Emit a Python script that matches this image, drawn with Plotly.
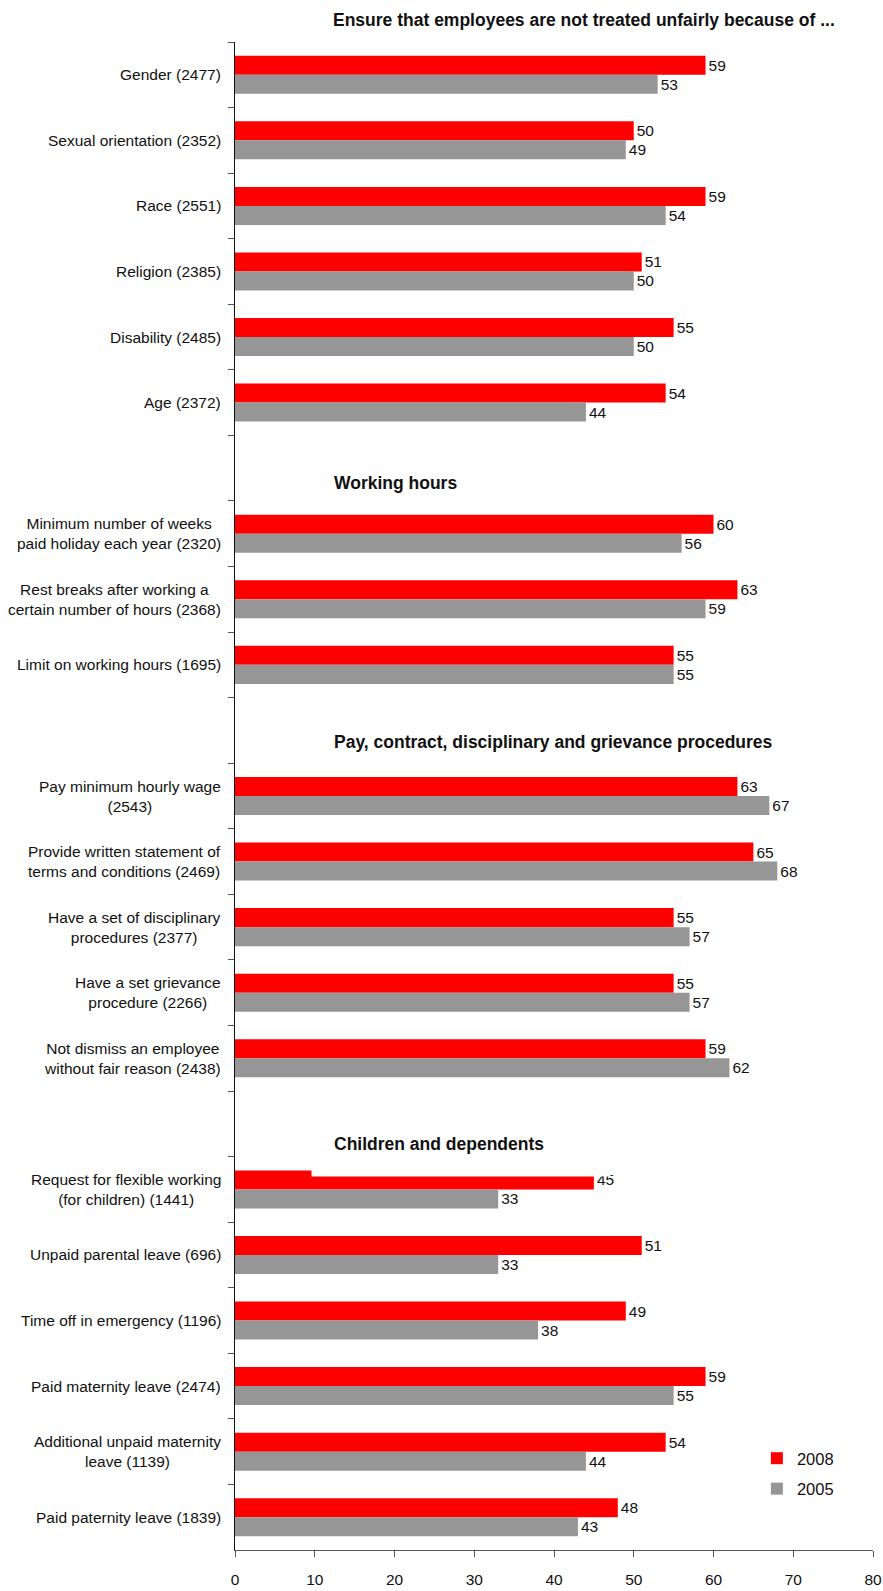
import plotly.graph_objects as go

# Survey categories, top to bottom; blank strings mark the gaps that hold section headings
categories = [
    "Gender (2477)",
    "Sexual orientation (2352)",
    "Race (2551)",
    "Religion (2385)",
    "Disability (2485)",
    "Age (2372)",
    " ",
    "Minimum number of weeks<br>paid holiday each year (2320)",
    "Rest breaks after working a<br>certain number of hours (2368)",
    "Limit on working hours (1695)",
    "  ",
    "Pay minimum hourly wage<br>(2543)",
    "Provide written statement of<br>terms and conditions (2469)",
    "Have a set of disciplinary<br>procedures (2377)",
    "Have a set grievance<br>procedure (2266)",
    "Not dismiss an employee<br>without fair reason (2438)",
    "   ",
    "Request for flexible working<br>(for children) (1441)",
    "Unpaid parental leave (696)",
    "Time off in emergency (1196)",
    "Paid maternity leave (2474)",
    "Additional unpaid maternity<br>leave (1139)",
    "Paid paternity leave (1839)",
]

values_2008 = [59, 50, 59, 51, 55, 54, None,
               60, 63, 55, None,
               63, 65, 55, 55, 59, None,
               45, 51, 49, 59, 54, 48]

values_2005 = [53, 49, 54, 50, 50, 44, None,
               56, 59, 55, None,
               67, 68, 57, 57, 62, None,
               33, 33, 38, 55, 44, 43]

title_text = "Ensure that employees are not treated unfairly because of ..."
# (category slot the heading sits in, heading text)
section_headings = [
    (" ", "Working hours"),
    ("  ", "Pay, contract, disciplinary and grievance procedures"),
    ("   ", "Children and dependents"),
]

FONT = "Liberation Sans, Arial, sans-serif"
SIZE = 15.5
HEAD_SIZE = 17.5
RED = "#FF0000"
GREY = "#969696"
INK = "#111"


def labels(vals):
    return ["" if v is None else str(v) for v in vals]


fig = go.Figure()
fig.add_trace(go.Bar(
    y=categories, x=values_2008, orientation="h", name="2008",
    marker=dict(color=RED, line=dict(width=0)),
    text=labels(values_2008), textposition="outside", constraintext="none",
    textfont=dict(family=FONT, size=SIZE, color=INK), cliponaxis=False,
    legendgroup="a",
))
fig.add_trace(go.Bar(
    y=categories, x=values_2005, orientation="h", name="2005",
    marker=dict(color=GREY, line=dict(width=0)),
    text=labels(values_2005), textposition="outside", constraintext="none",
    textfont=dict(family=FONT, size=SIZE, color=INK), cliponaxis=False,
    legendgroup="b",
))

annotations = []
# Category labels, lines centred and the block right-aligned against the axis
for i, cat in enumerate(categories):
    if cat.strip() == "":
        continue
    annotations.append(dict(
        xref="paper", yref="y", x=0, y=i, xshift=-12,
        xanchor="right", yanchor="middle", align="center",
        text=cat, showarrow=False,
        font=dict(family=FONT, size=SIZE, color=INK),
    ))

# Main heading above the plot area
annotations.append(dict(
    xref="x", yref="paper", x=12, y=1.0146, xanchor="left", yanchor="middle",
    text="<b>%s</b>" % title_text, showarrow=False,
    font=dict(family=FONT, size=HEAD_SIZE, color=INK),
))

# Section headings placed in their blank slots
offsets = {" ": 0.23, "  ": 0.18, "   ": 0.31}
for slot, txt in section_headings:
    idx = categories.index(slot)
    ann = dict(
        xref="x", yref="y", x=9.47, y=idx + offsets[slot],
        xanchor="left", yanchor="middle", align="left",
        text="<b>%s</b>" % txt, showarrow=False, borderpad=22,
        font=dict(family=FONT, size=HEAD_SIZE, color=INK),
    )
    if slot == "   ":
        ann.update(bgcolor="white", width=254)
    annotations.append(ann)

fig.update_layout(
    width=883, height=1591, autosize=False,
    margin=dict(l=235, r=10, t=42, b=41, autoexpand=False),
    paper_bgcolor="white", plot_bgcolor="white",
    barmode="group", bargap=0.42, bargroupgap=0,
    font=dict(family=FONT, size=SIZE, color=INK),
    showlegend=True,
    legend=dict(
        x=0.818, y=0.0723, xanchor="left", yanchor="top",
        bgcolor="rgba(0,0,0,0)", tracegroupgap=6,
        font=dict(family=FONT, size=SIZE + 1, color=INK),
    ),
    xaxis=dict(
        range=[0, 80], dtick=10, tick0=0, automargin=False,
        ticks="outside", ticklen=6, tickcolor="#555",
        showline=True, linecolor="#555", linewidth=1,
        showgrid=False, zeroline=False,
        ticklabelstandoff=9, ticklabeloverflow="allow",
        tickfont=dict(family=FONT, size=SIZE, color=INK),
    ),
    yaxis=dict(
        type="category", categoryorder="array", categoryarray=categories,
        range=[len(categories) - 0.5, -0.5], automargin=False,
        tickson="boundaries", ticks="outside", ticklen=6, tickcolor="#555",
        showline=True, linecolor="#111", linewidth=1,
        showticklabels=False, showgrid=False, zeroline=False,
    ),
    annotations=annotations,
)

fig.write_html("out.html")
